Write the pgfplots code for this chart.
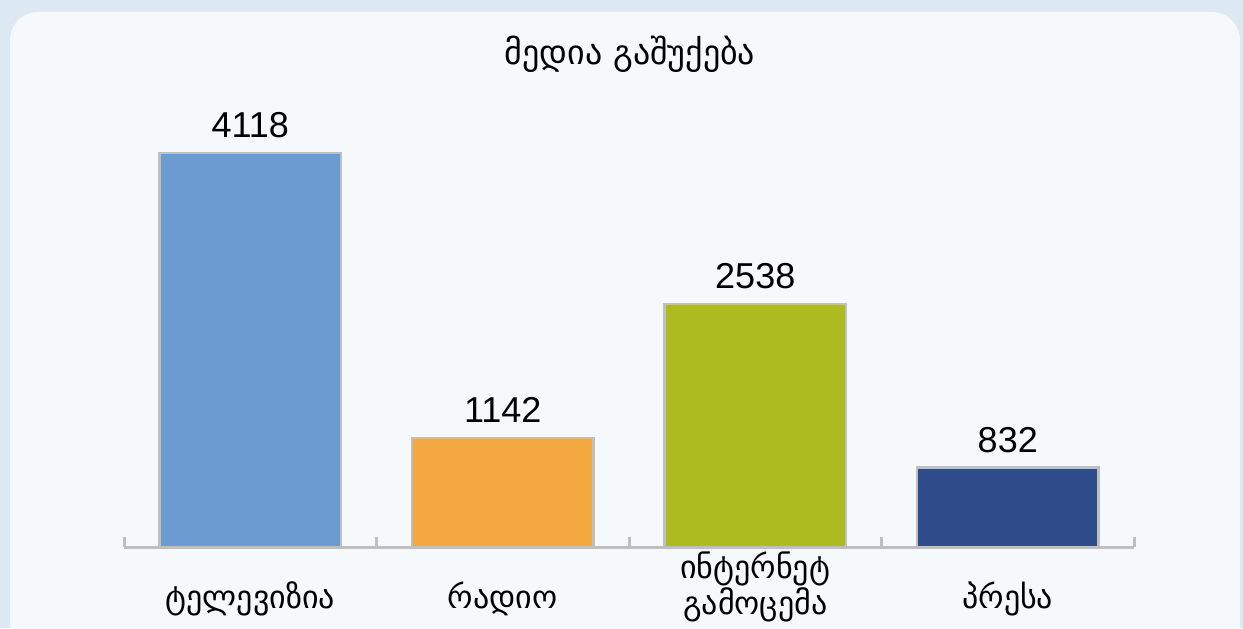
\documentclass[border=0pt]{standalone}
\usepackage{pgfplots}
\pgfplotsset{compat=1.18}
\usepackage{fontspec}
\setmainfont{Liberation Sans}
\newfontfamily\geo{DejaVu Sans}
\definecolor{bgblue}{HTML}{DCE8F2}
\definecolor{panel}{HTML}{F5F9FC}
\definecolor{cTV}{HTML}{6A9BD1}
\definecolor{cRadio}{HTML}{F4A940}
\definecolor{cNet}{HTML}{ADBA20}
\definecolor{cPress}{HTML}{2F4D8A}
\definecolor{axgray}{HTML}{BFBFBF}
\begin{document}
\begin{tikzpicture}[x=1bp,y=1bp]
\useasboundingbox (0,0) rectangle (621.5,314);
\fill[bgblue] (0,0) rectangle (621.5,314);
\fill[panel, rounded corners=14bp] (5,-30) rectangle (620,308);
\node[font=\geo\fontsize{17bp}{20bp}\selectfont] at (315,287) {მედია გაშუქება};
\begin{axis}[
  at={(62bp,40.5bp)}, anchor=south west,
  scale only axis, width=505bp, height=197bp,
  xmin=-0.5, xmax=3.5, ymin=0, ymax=4118,
  axis x line*=bottom, axis y line=none,
  x axis line style={axgray, line width=1.5bp},
  clip=false,
  xtick={0,1,2,3},
  xticklabels={ტელევიზია, რადიო, {\begin{tabular}{@{}c@{}}ინტერნეტ\\[0bp]გამოცემა\end{tabular}\rule[-25bp]{0pt}{1bp}}, პრესა},
  xticklabel style={font=\geo\fontsize{16bp}{16.5bp}\selectfont, align=center, anchor=center, yshift=-26bp},
  major tick length=0pt,
  extra x ticks={-0.5,0.5,1.5,2.5,3.5},
  extra x tick labels={},
  extra x tick style={major tick length=5bp, tick align=inside, tick style={axgray, line width=1.5bp}},
  bar width=0.72,
  nodes near coords,
  every node near coord/.append style={font=\fontsize{18bp}{21bp}\selectfont, black, yshift=3.5bp,
    /pgf/number format/.cd, 1000 sep={}, assume math mode=true},
]
\addplot[ybar, fill=cTV, draw=axgray, line width=1.2bp] coordinates {(0,4118)};
\addplot[ybar, fill=cRadio, draw=axgray, line width=1.2bp] coordinates {(1,1142)};
\addplot[ybar, fill=cNet, draw=axgray, line width=1.2bp] coordinates {(2,2538)};
\addplot[ybar, fill=cPress, draw=axgray, line width=1.2bp] coordinates {(3,832)};
\end{axis}
\end{tikzpicture}
\end{document}
